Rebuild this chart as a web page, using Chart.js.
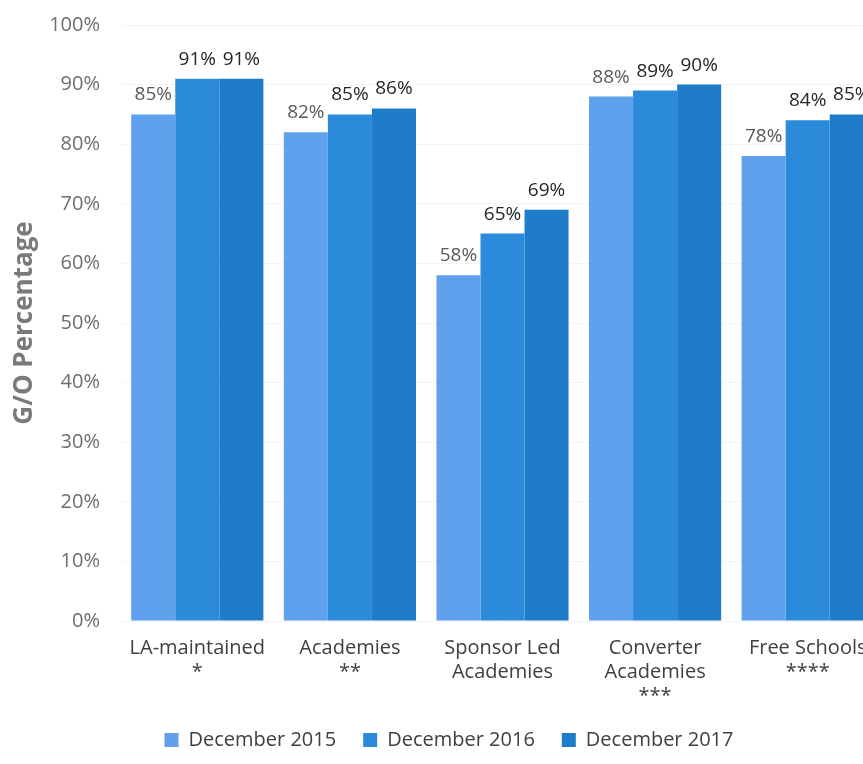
<!DOCTYPE html>
<html lang="en">
<head>
    <meta charset="UTF-8">
    <title>G/O Percentage by school type</title>
    <script src="https://cdn.jsdelivr.net/npm/chart.js"></script>
    <style>
        html, body {
            margin: 0;
            padding: 0;
            background: #ffffff;
            overflow: hidden;
        }

        .chart-container {
            position: relative;
            width: 898px;
            height: 764px;
        }
    </style>
</head>
<body>

    <div class="chart-container">
        <canvas id="goChart"></canvas>
    </div>

    <script>
        // Data
        const categories = [
            ["LA-maintained", "*"],
            ["Academies", "**"],
            ["Sponsor Led", "Academies"],
            ["Converter", "Academies", "***"],
            ["Free Schools", "****"]
        ];
        const seriesNames = ["December 2015", "December 2016", "December 2017"];
        const dec2015 = [85, 82, 58, 88, 78];
        const dec2016 = [91, 85, 65, 89, 84];
        const dec2017 = [91, 86, 69, 90, 85];
        const yTicks = [0, 10, 20, 30, 40, 50, 60, 70, 80, 90, 100];

        const barColors = ["#5fa1ec", "#2b8ad9", "#1e7cc8"];
        const fontFamily = "'Open Sans', 'Noto Sans', sans-serif";

        // Value labels above each bar
        const valueLabels = {
            id: 'valueLabels',
            afterDatasetsDraw(chart) {
                const ctx = chart.ctx;
                ctx.save();
                ctx.font = "19px " + fontFamily;
                ctx.textAlign = 'center';
                ctx.textBaseline = 'alphabetic';
                chart.data.datasets.forEach((ds, i) => {
                    const meta = chart.getDatasetMeta(i);
                    meta.data.forEach((bar, j) => {
                        ctx.fillStyle = i === 0 ? '#5a5a5a' : '#262626';
                        ctx.fillText(ds.data[j] + '%', bar.x, bar.y - 14);
                    });
                });
                ctx.restore();
            }
        };

        const ctx = document.getElementById('goChart').getContext('2d');

        const data = {
            labels: categories,
            datasets: [
                { label: seriesNames[0], data: dec2015, backgroundColor: barColors[0] },
                { label: seriesNames[1], data: dec2016, backgroundColor: barColors[1] },
                { label: seriesNames[2], data: dec2017, backgroundColor: barColors[2] }
            ]
        };

        const config = {
            type: 'bar',
            data: data,
            options: {
                responsive: true,
                maintainAspectRatio: false,
                animation: false,
                layout: {
                    padding: { top: 25, right: 14, bottom: 4, left: 14 }
                },
                datasets: {
                    bar: {
                        categoryPercentage: 0.866,
                        barPercentage: 1.0,
                        borderWidth: 0
                    }
                },
                scales: {
                    x: {
                        afterFit(axis) { axis.height = 82; },
                        grid: { display: false },
                        border: { display: false },
                        ticks: {
                            color: '#404040',
                            font: { family: fontFamily, size: 20, lineHeight: 1.2 },
                            padding: 7,
                            maxRotation: 0,
                            autoSkip: false
                        }
                    },
                    y: {
                        min: 0,
                        max: 100,
                        afterFit(axis) {
                            axis.width = 107;
                            // tick padding is only meant for the horizontal gap
                            axis.paddingTop = 0;
                            axis.paddingBottom = 0;
                        },
                        afterBuildTicks(axis) {
                            axis.ticks = yTicks.map(v => ({ value: v }));
                        },
                        grid: { color: '#f4f4f4', drawTicks: false },
                        border: { display: false },
                        ticks: {
                            color: '#6e6e6e',
                            font: { family: fontFamily, size: 20 },
                            padding: 21,
                            callback: v => v + '%'
                        },
                        title: {
                            display: true,
                            text: 'G/O Percentage',
                            color: '#7a7a7a',
                            font: { family: fontFamily, size: 26, weight: 'bold', lineHeight: 0.8 },
                            padding: { top: 0, bottom: 0 }
                        }
                    }
                },
                plugins: {
                    legend: {
                        position: 'bottom',
                        labels: {
                            color: '#404040',
                            font: { family: fontFamily, size: 20 },
                            boxWidth: 14,
                            boxHeight: 14,
                            padding: 27
                        }
                    },
                    tooltip: { enabled: false }
                }
            },
            plugins: [valueLabels]
        };

        const goChart = new Chart(ctx, config);
    </script>

</body>
</html>
